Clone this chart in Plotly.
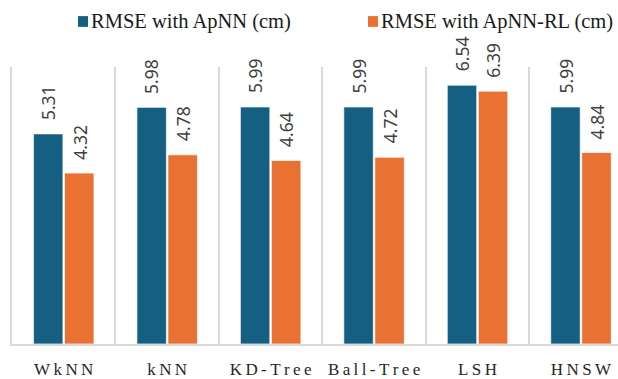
import plotly.graph_objects as go

# Nearest-neighbour search methods and their positioning error
categories = ["WkNN", "kNN", "KD-Tree", "Ball-Tree", "LSH", "HNSW"]
rmse_apnn = [5.31, 5.98, 5.99, 5.99, 6.54, 5.99]
rmse_apnn_rl = [4.32, 4.78, 4.64, 4.72, 6.39, 4.84]
series_names = ["RMSE with ApNN (cm)", "RMSE with ApNN-RL (cm)"]
series_colors = ["#156082", "#E97132"]

# letter-spaced axis labels
tick_text = ["\u2009".join(list(c)) for c in categories]

W, H = 618, 379
M = dict(l=12, r=0, t=67, b=29)
plot_w = W - M["l"] - M["r"]
plot_h = H - M["t"] - M["b"]


def px_x(px):
    return (px - M["l"]) / plot_w


def px_y(py):
    return (H - M["b"] - py) / plot_h


fig = go.Figure()
for name, vals, color in zip(series_names, [rmse_apnn, rmse_apnn_rl], series_colors):
    fig.add_trace(go.Bar(
        x=categories, y=vals, name=name, showlegend=False,
        marker=dict(color=color, line=dict(color="rgba(255,255,255,0.7)", width=1)),
    ))

# rotated value labels, centred a fixed distance above each bar
label_offsets = [-15.5, 16]
for vals, dx in zip([rmse_apnn, rmse_apnn_rl], label_offsets):
    for c, v in zip(categories, vals):
        fig.add_annotation(
            x=c, y=v, text=f"{v:.2f}", showarrow=False, textangle=-90,
            xanchor="center", yanchor="middle", xshift=dx, yshift=31,
            font=dict(family="Noto Sans", size=17.5, color="#404040"),
        )

# legend row above the plot: colour swatch followed by series name
legend_swatch_x = [78, 368]
legend_text_x = [89, 379]
legend_cy = 20.5
for name, color, sx, tx in zip(series_names, series_colors, legend_swatch_x, legend_text_x):
    fig.add_shape(
        type="rect", xref="paper", yref="paper",
        x0=px_x(sx), x1=px_x(sx + 10), y0=px_y(legend_cy - 5.5), y1=px_y(legend_cy + 5.5),
        fillcolor=color, line=dict(width=0),
    )
    fig.add_annotation(
        xref="paper", yref="paper", x=px_x(tx), y=px_y(legend_cy),
        xanchor="left", yanchor="middle", text=name, showarrow=False,
        font=dict(family="Liberation Serif", size=20.5, color="#1a1a1a"),
    )

fig.update_layout(
    width=W, height=H,
    margin=M,
    paper_bgcolor="white", plot_bgcolor="white",
    barmode="group", bargap=0.4, bargroupgap=0.05,
    showlegend=False,
    xaxis=dict(
        type="category", range=[-0.5, 5.358],
        tickmode="array", tickvals=categories, ticktext=tick_text,
        tickson="boundaries", showgrid=True, gridcolor="#D9D9D9", gridwidth=1.5,
        showline=True, linecolor="#D9D9D9", linewidth=1.5,
        ticks="", ticklabelstandoff=9,
        tickfont=dict(family="Liberation Serif", size=17, color="#262626"),
    ),
    yaxis=dict(
        range=[0, 7], showgrid=False, zeroline=False,
        showticklabels=False, ticks="",
        showline=True, linecolor="#D9D9D9", linewidth=1.5,
    ),
)

fig.write_html("out.html")
